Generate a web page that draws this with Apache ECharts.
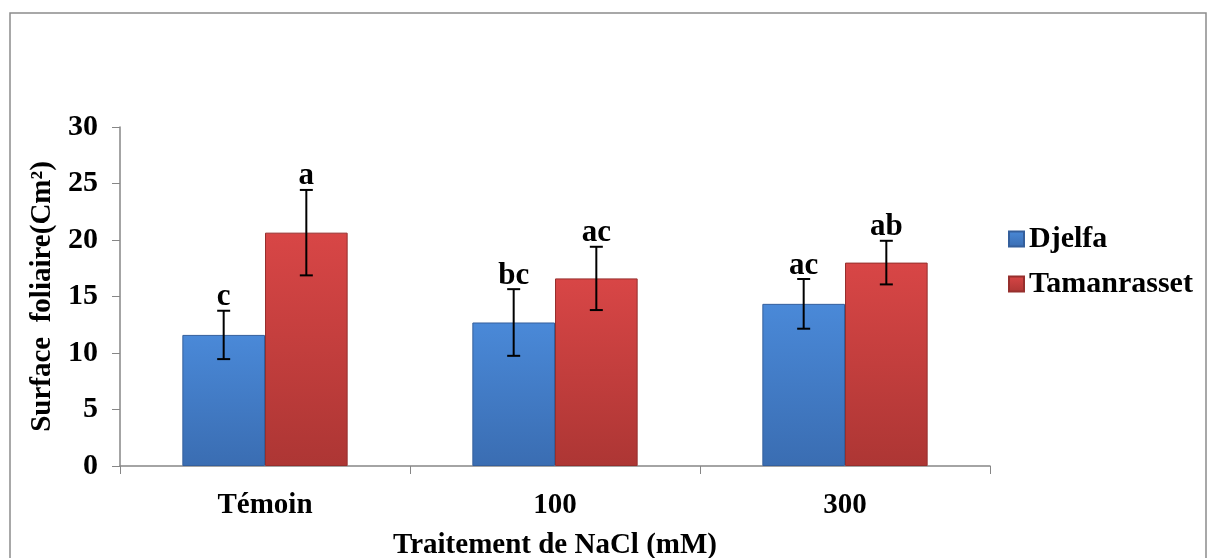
<!DOCTYPE html>
<html>
<head>
<meta charset="utf-8">
<script src="https://cdn.jsdelivr.net/npm/echarts@6/dist/echarts.min.js"></script>
<style>
  html, body { margin: 0; padding: 0; background: #fff; }
  #chart { width: 1208px; height: 558px; }
</style>
</head>
<body>
<div id="chart"></div>
<script>
// données
var categories = ['Témoin', '100', '300'];
var djelfa = [11.6, 12.7, 14.35];
var djelfaErr = [2.14, 2.95, 2.2];
var djelfaLetters = ['c', 'bc', 'ac'];
var tamanrasset = [20.65, 16.6, 18.0];
var tamanrassetErr = [3.78, 2.8, 1.93];
var tamanrassetLetters = ['a', 'ac', 'ab'];

var FONT = '"Liberation Serif", "Times New Roman", serif';
var GAP = 0.43;

function barColor(top, bottom) {
  return new echarts.graphic.LinearGradient(0, 0, 0, 1, [
    {offset: 0, color: top},
    {offset: 1, color: bottom}
  ]);
}

// barres d'erreur + lettres, side = -1 (Djelfa) ou 1 (Tamanrasset)
function errorSeries(values, errs, letters, side) {
  return {
    type: 'custom',
    z: 10,
    silent: true,
    data: values.map(function (v, i) { return [i, v, errs[i], letters[i]]; }),
    renderItem: function (params, api) {
      var idx = api.value(0);
      var v = api.value(1);
      var e = api.value(2);
      var band = api.size([1, 0])[0];
      var bw = band * (1 - GAP) / 2;
      var center = api.coord([idx, v]);
      var x = center[0] + side * bw / 2;
      var top = api.coord([idx, v + e])[1];
      var bot = api.coord([idx, v - e])[1];
      var cap = 6.5;
      var st = {stroke: '#000', lineWidth: 2};
      return {
        type: 'group',
        children: [
          {type: 'line', shape: {x1: x, y1: top, x2: x, y2: bot}, style: st},
          {type: 'line', shape: {x1: x - cap, y1: top, x2: x + cap, y2: top}, style: st},
          {type: 'line', shape: {x1: x - cap, y1: bot, x2: x + cap, y2: bot}, style: st},
          {type: 'text', x: x, y: top + 2, style: {
            text: letters[idx], fill: '#000', font: 'bold 31px ' + FONT,
            align: 'center', verticalAlign: 'bottom'
          }}
        ]
      };
    }
  };
}

var myChart = echarts.init(document.getElementById('chart'));
myChart.setOption({
  backgroundColor: '#ffffff',
  animation: false,
  graphic: [{
    type: 'rect',
    shape: {x: 10, y: 13, width: 1196, height: 560},
    style: {fill: 'none', stroke: '#8c8c8c', lineWidth: 1.5}
  }],
  grid: {left: 120, right: 218, top: 127, bottom: 92, containLabel: false, outerBoundsMode: 'none'},
  legend: {
    orient: 'vertical',
    left: 1003,
    top: 219,
    icon: 'rect',
    itemWidth: 15,
    itemHeight: 15,
    itemGap: 15,
    textStyle: {fontFamily: FONT, fontWeight: 'bold', fontSize: 30, color: '#000'},
    data: ['Djelfa', 'Tamanrasset']
  },
  xAxis: {
    type: 'category',
    data: categories,
    name: 'Traitement de NaCl (mM)',
    nameLocation: 'middle',
    nameGap: 65,
    nameTextStyle: {fontFamily: FONT, fontWeight: 'bold', fontSize: 29, color: '#000'},
    axisLine: {lineStyle: {color: '#868686', width: 1.5}},
    axisTick: {show: true, length: 8, lineStyle: {color: '#868686'}},
    axisLabel: {margin: 25, fontFamily: FONT, fontWeight: 'bold', fontSize: 29, color: '#000'}
  },
  yAxis: {
    type: 'value',
    min: 0,
    max: 30,
    interval: 5,
    name: 'Surface  foliaire(Cm²)',
    nameLocation: 'middle',
    nameGap: 60,
    nameTextStyle: {fontFamily: FONT, fontWeight: 'bold', fontSize: 29, color: '#000'},
    axisLine: {show: true, lineStyle: {color: '#868686', width: 1.5}},
    axisTick: {show: true, length: 8, lineStyle: {color: '#868686'}},
    splitLine: {show: false},
    axisLabel: {margin: 22, fontFamily: FONT, fontWeight: 'bold', fontSize: 30, color: '#000'}
  },
  series: [
    {
      name: 'Djelfa',
      type: 'bar',
      data: djelfa,
      barGap: '0%',
      barCategoryGap: '43%',
      itemStyle: {color: barColor('#4a89d8', '#3a6db2'), borderColor: '#345f9c', borderWidth: 1}
    },
    {
      name: 'Tamanrasset',
      type: 'bar',
      data: tamanrasset,
      barGap: '0%',
      barCategoryGap: '43%',
      itemStyle: {color: barColor('#d84646', '#ad3634'), borderColor: '#962f2d', borderWidth: 1}
    },
    errorSeries(djelfa, djelfaErr, djelfaLetters, -1),
    errorSeries(tamanrasset, tamanrassetErr, tamanrassetLetters, 1)
  ]
});
</script>
</body>
</html>
